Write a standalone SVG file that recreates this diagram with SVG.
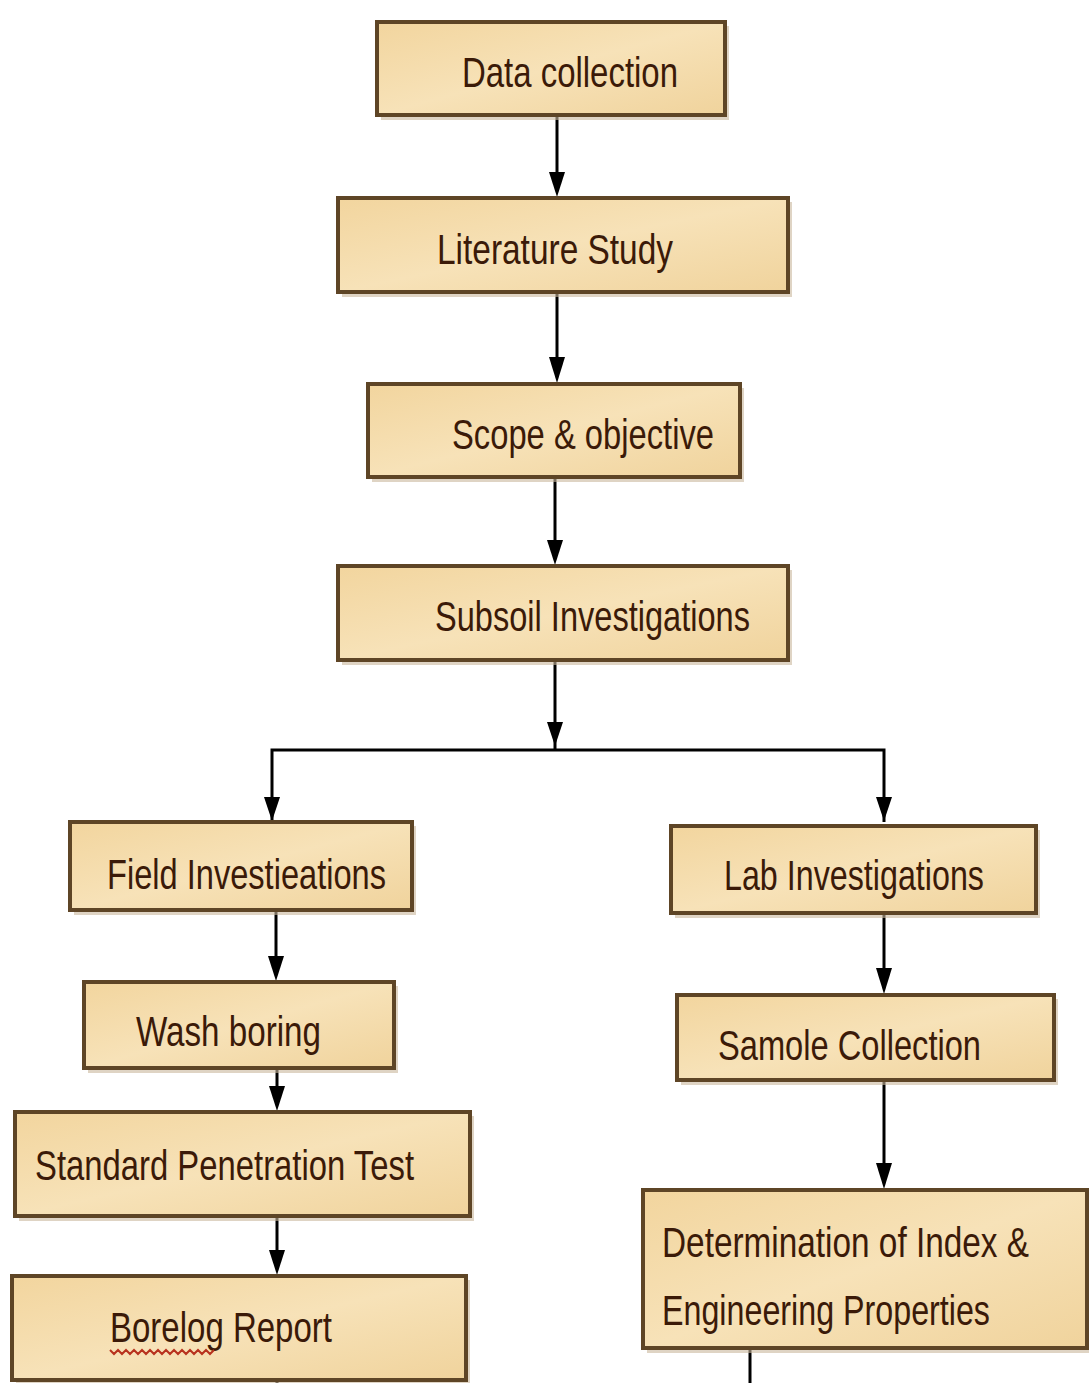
<svg xmlns="http://www.w3.org/2000/svg" width="1089" height="1383" viewBox="0 0 1089 1383">
<style>
.box{fill:url(#tan);stroke:#5e4526;stroke-width:4}
.sh{fill:#c9b89c;opacity:0.6}
.t{font-family:"Liberation Sans",Arial,sans-serif;font-size:42px;fill:#3b1a08}
.c{stroke:#000;stroke-width:3;fill:none}
</style>
<defs>
<linearGradient id="tan" x1="0" y1="0" x2="1" y2="1">
<stop offset="0" stop-color="#f2d59e"/>
<stop offset="0.5" stop-color="#f7e2b8"/>
<stop offset="1" stop-color="#f0d39c"/>
</linearGradient>
</defs>
<rect width="1089" height="1383" fill="#fff"/>
<g id="connectors">
<line class="c" x1="557" y1="115" x2="557" y2="172"/><path d="M549,172 L565,172 L557,197 Z"/>
<line class="c" x1="557" y1="292" x2="557" y2="357"/><path d="M549,357 L565,357 L557,383 Z"/>
<line class="c" x1="555" y1="477" x2="555" y2="540"/><path d="M547,540 L563,540 L555,565 Z"/>
<line class="c" x1="555" y1="660" x2="555" y2="750"/><path d="M547,722 L563,722 L555,746 Z"/>
<polyline class="c" points="272,822 272,750 884,750 884,822"/>
<path d="M264,797 L280,797 L272,821 Z"/>
<path d="M876,797 L892,797 L884,821 Z"/>
<line class="c" x1="276" y1="910" x2="276" y2="960"/><path d="M268,956 L284,956 L276,981 Z"/>
<line class="c" x1="277" y1="1068" x2="277" y2="1090"/><path d="M269,1086 L285,1086 L277,1111 Z"/>
<line class="c" x1="277" y1="1216" x2="277" y2="1250"/><path d="M269,1250 L285,1250 L277,1275 Z"/>
<line class="c" x1="277" y1="1380" x2="277" y2="1383"/><path d="M271,1378 L283,1378 L277,1383 Z"/>
<line class="c" x1="884" y1="913" x2="884" y2="970"/><path d="M876,968 L892,968 L884,994 Z"/>
<line class="c" x1="884" y1="1080" x2="884" y2="1165"/><path d="M876,1163 L892,1163 L884,1189 Z"/>
<line class="c" x1="750" y1="1348" x2="750" y2="1383"/>
</g>
<g id="n1"><rect class="sh" x="381" y="26" width="348" height="94"/><rect class="box" x="377" y="22" width="348" height="93"/><text class="t" x="462" y="87" textLength="216" lengthAdjust="spacingAndGlyphs">Data collection</text></g>
<g id="n2"><rect class="sh" x="342" y="202" width="450" height="95"/><rect class="box" x="338" y="198" width="450" height="94"/><text class="t" x="437" y="264" textLength="236" lengthAdjust="spacingAndGlyphs">Literature Study</text></g>
<g id="n3"><rect class="sh" x="372" y="388" width="372" height="94"/><rect class="box" x="368" y="384" width="372" height="93"/><text class="t" x="452" y="449" textLength="262" lengthAdjust="spacingAndGlyphs">Scope &amp; objective</text></g>
<g id="n4"><rect class="sh" x="342" y="570" width="450" height="95"/><rect class="box" x="338" y="566" width="450" height="94"/><text class="t" x="435" y="631" textLength="315" lengthAdjust="spacingAndGlyphs">Subsoil Investigations</text></g>
<g id="n5"><rect class="sh" x="74" y="826" width="342" height="89"/><rect class="box" x="70" y="822" width="342" height="88"/><text class="t" x="107" y="889" textLength="279" lengthAdjust="spacingAndGlyphs">Field Investieations</text></g>
<g id="n6"><rect class="sh" x="88" y="986" width="310" height="87"/><rect class="box" x="84" y="982" width="310" height="86"/><text class="t" x="136" y="1046" textLength="185" lengthAdjust="spacingAndGlyphs">Wash boring</text></g>
<g id="n7"><rect class="sh" x="19" y="1116" width="455" height="105"/><rect class="box" x="15" y="1112" width="455" height="104"/><text class="t" x="35" y="1180" textLength="379" lengthAdjust="spacingAndGlyphs">Standard Penetration Test</text></g>
<g id="n8"><rect class="sh" x="16" y="1280" width="454" height="103"/><rect class="box" x="12" y="1276" width="454" height="104"/><text class="t" x="110" y="1342" textLength="222" lengthAdjust="spacingAndGlyphs">Borelog Report</text><path d="M110,1350 l4,4 l4,-4 l4,4 l4,-4 l4,4 l4,-4 l4,4 l4,-4 l4,4 l4,-4 l4,4 l4,-4 l4,4 l4,-4 l4,4 l4,-4 l4,4 l4,-4 l4,4 l4,-4 l4,4 l4,-4 l4,4 l4,-4 l4,4 l4,-4" fill="none" stroke="#b8321e" stroke-width="2"/></g>
<g id="n9"><rect class="sh" x="675" y="830" width="365" height="88"/><rect class="box" x="671" y="826" width="365" height="87"/><text class="t" x="724" y="890" textLength="260" lengthAdjust="spacingAndGlyphs">Lab Investigations</text></g>
<g id="n10"><rect class="sh" x="681" y="999" width="377" height="86"/><rect class="box" x="677" y="995" width="377" height="85"/><text class="t" x="718" y="1060" textLength="263" lengthAdjust="spacingAndGlyphs">Samole Collection</text></g>
<g id="n11"><rect class="sh" x="647" y="1194" width="442" height="159"/><rect class="box" x="643" y="1190" width="444" height="158"/><text class="t" x="662" y="1257" textLength="367" lengthAdjust="spacingAndGlyphs">Determination of Index &amp;</text><text class="t" x="662" y="1325" textLength="328" lengthAdjust="spacingAndGlyphs">Engineering Properties</text></g>
</svg>
